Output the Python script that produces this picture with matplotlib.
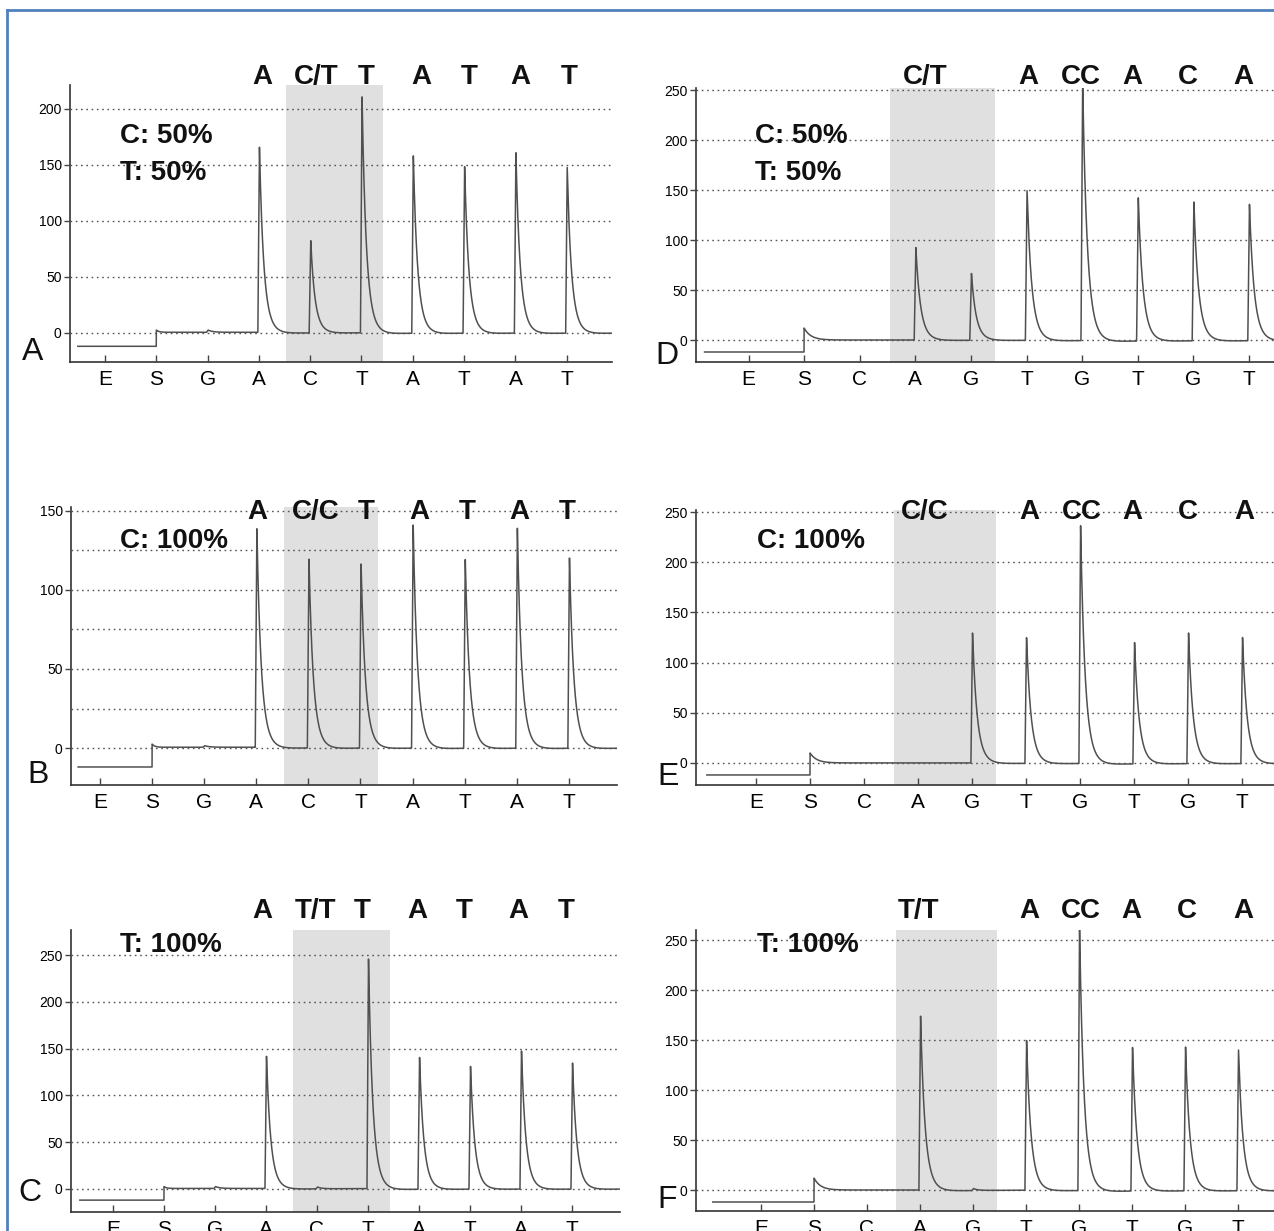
import numpy as np
import matplotlib
matplotlib.use("Agg")
import matplotlib.pyplot as plt
from matplotlib import transforms
from matplotlib.lines import Line2D
from matplotlib.ticker import FixedLocator

plt.rcParams['font.family'] = ['Liberation Sans', 'DejaVu Sans']

W, H = 1274, 1231

# Dispensation order of each assay
disp_left = ["E", "S", "G", "A", "C", "T", "A", "T", "A", "T"]
disp_right = ["E", "S", "C", "A", "G", "T", "G", "T", "G", "T"]

# Light units recorded at each dispensation
heights_A = [0, 0, 2, 167, 83, 212, 159, 149, 161, 148]
heights_B = [0, 0, 1, 140, 121, 118, 143, 121, 141, 122]
heights_C = [0, 0, 2, 142, 2, 246, 143, 132, 149, 136]
heights_D = [0, 0, 0, 93, 67, 150, 258, 145, 140, 137]
heights_E = [0, 0, 0, 0, 130, 127, 240, 122, 131, 126]
heights_F = [0, 0, 0, 176, 2, 152, 265, 145, 145, 141]

# Signal before substrate addition and the substrate bump at "S"
pre_levels = {"A": -12, "B": -12, "C": -12, "D": -12, "E": -12, "F": -12}
s_bumps = {"A": 2, "B": 2, "C": 2, "D": 12, "E": 10, "F": 12}

# Sequence read above each pyrogram
seq_A = ["A", "C/T", "T", "A", "T", "A", "T"]
seq_B = ["A", "C/C", "T", "A", "T", "A", "T"]
seq_C = ["A", "T/T", "T", "A", "T", "A", "T"]
seq_D = ["C/T", "A", "CC", "A", "C", "A"]
seq_E = ["C/C", "A", "CC", "A", "C", "A"]
seq_F = ["T/T", "A", "CC", "A", "C", "A"]

# Allele frequencies
alleles_A = ["C: 50%", "T: 50%"]
alleles_B = ["C: 100%"]
alleles_C = ["T: 100%"]
alleles_D = ["C: 50%", "T: 50%"]
alleles_E = ["C: 100%"]
alleles_F = ["T: 100%"]

panels = [
    dict(name="A", disp=disp_left, h=heights_A, seq=seq_A, al=alleles_A,
         box=(70, 85, 612, 362), e_px=105, step=51.3, ylim=(-26, 221),
         yt=[0, 50, 100, 150, 200], minor=[], span=(4.53, 6.42),
         seq_x=[4.06, 5.11, 6.1, 7.16, 8.1, 9.1, 10.05], seq_y=77,
         x0=0.47, al_xy=(120, 136), let_xy=(22, 352)),
    dict(name="B", disp=disp_left, h=heights_B, seq=seq_B, al=alleles_B,
         box=(71, 507, 617, 785), e_px=100, step=52.1, ylim=(-23.4, 152.5),
         yt=[0, 50, 100, 150], minor=[25, 75, 125], span=(4.53, 6.34),
         seq_x=[4.01, 5.15, 6.1, 7.12, 8.04, 9.04, 9.96], seq_y=512,
         x0=0.58, al_xy=(120, 541), let_xy=(27, 775)),
    dict(name="C", disp=disp_left, h=heights_C, seq=seq_C, al=alleles_C,
         box=(71, 930, 620, 1212), e_px=113, step=51.0, ylim=(-24.7, 277),
         yt=[0, 50, 100, 150, 200, 250], minor=[], span=(4.53, 6.43),
         seq_x=[3.92, 4.98, 5.88, 6.96, 7.88, 8.94, 9.88], seq_y=911,
         x0=0.35, al_xy=(120, 945), let_xy=(18, 1193)),
    dict(name="D", disp=disp_right, h=heights_D, seq=seq_D, al=alleles_D,
         box=(696, 88, 1300, 362), e_px=748.5, step=55.6, ylim=(-22, 252),
         yt=[0, 50, 100, 150, 200, 250], minor=[], span=(3.54, 5.43),
         seq_x=[4.17, 6.04, 6.98, 7.9, 8.9, 9.9], seq_y=77,
         x0=0.21, al_xy=(755, 136), let_xy=(655, 356)),
    dict(name="E", disp=disp_right, h=heights_E, seq=seq_E, al=alleles_E,
         box=(696, 510, 1300, 785), e_px=756, step=54.0, ylim=(-22, 252),
         yt=[0, 50, 100, 150, 200, 250], minor=[], span=(3.55, 5.44),
         seq_x=[4.13, 6.06, 7.04, 7.96, 9.0, 10.04], seq_y=512,
         x0=0.09, al_xy=(757, 541), let_xy=(657, 777)),
    dict(name="F", disp=disp_right, h=heights_F, seq=seq_F, al=alleles_F,
         box=(696, 930, 1300, 1211), e_px=761, step=53.0, ylim=(-21, 260),
         yt=[0, 50, 100, 150, 200, 250], minor=[], span=(3.55, 5.45),
         seq_x=[3.98, 6.06, 7.04, 7.98, 9.04, 10.1], seq_y=911,
         x0=0.09, al_xy=(757, 945), let_xy=(657, 1200)),
]


def peak(x, pos, h):
    """Pyrogram peak: near-vertical rise, two-rate exponential decay,
    followed by a slight undershoot of the baseline."""
    t = x - (pos - 0.02)
    r = 0.03
    y = np.zeros_like(x)
    rising = (t >= 0) & (t < r)
    y[rising] = h * t[rising] / r
    dec = t >= r
    td = t[dec] - r
    y[dec] = h * (0.6 * np.exp(-td / 0.07) + 0.4 * np.exp(-td / 0.12)
                  - 0.012 * (1 - np.exp(-td / 0.25)) * np.exp(-td / 0.8))
    return y


def trace(x, heights, pre, bump):
    s_pos = 2
    y = np.where(x < s_pos, float(pre), 0.0)
    after = x >= s_pos
    ts = x[after] - s_pos
    if bump > 3:
        y[after] += bump * np.exp(-ts / 0.12)
    else:
        y[after] += bump * np.exp(-ts / 0.05) + 0.5
    for i, h in enumerate(heights):
        if i >= 2 and h > 0:
            y += peak(x, i + 1, h)
    return y


fig = plt.figure(figsize=(W / 100, H / 100), dpi=100)
fig.patch.set_facecolor("white")

for p in panels:
    x0p, y0p, x1p, y1p = p["box"]
    ax = fig.add_axes([x0p / W, 1 - y1p / H, (x1p - x0p) / W, (y1p - y0p) / H])
    xl = ((x0p - p["e_px"]) / p["step"] + 1, (x1p - p["e_px"]) / p["step"] + 1)
    ax.set_xlim(*xl)
    ax.set_ylim(*p["ylim"])

    ax.axvspan(p["span"][0], p["span"][1], color="#e0e0e0", lw=0, zorder=0)

    x = np.linspace(p["x0"], xl[1], 6000)
    y = trace(x, p["h"], pre_levels[p["name"]], s_bumps[p["name"]])
    ax.plot(x, y, color="#505050", lw=1.1, zorder=3)

    pos = np.arange(1, len(p["disp"]) + 1)
    ax.set_xticks(pos)
    ax.set_xticklabels(p["disp"], fontsize=15)
    ax.set_yticks(p["yt"])
    ax.set_yticklabels([str(v) for v in p["yt"]], fontsize=10)
    ax.tick_params(axis="x", direction="in", length=5, width=1, pad=6,
                   color="#444")
    ax.tick_params(axis="y", direction="out", length=4, width=1, pad=2,
                   color="#444")
    ax.grid(axis="y", which="major", linestyle=(0, (1.2, 2.6)),
            color="#555555", lw=1.0, zorder=1)
    if p["minor"]:
        ax.yaxis.set_minor_locator(FixedLocator(p["minor"]))
        ax.tick_params(axis="y", which="minor", length=0)
        ax.grid(axis="y", which="minor", linestyle=(0, (1.2, 2.6)),
                color="#555555", lw=1.0, zorder=1)
    ax.set_axisbelow(False)
    for side in ("top", "right"):
        ax.spines[side].set_visible(False)
    for side in ("left", "bottom"):
        ax.spines[side].set_color("#333333")
        ax.spines[side].set_linewidth(1.2)
    ax.patch.set_alpha(0)

    # sequence letters above the pyrogram
    tr = transforms.blended_transform_factory(ax.transData, fig.transFigure)
    for lab, sx in zip(p["seq"], p["seq_x"]):
        ax.text(sx, 1 - p["seq_y"] / H, lab, transform=tr, ha="center",
                va="center", fontsize=20, fontweight="bold", color="#111",
                clip_on=False, zorder=5)

    # allele frequencies
    ax_x, ax_y = p["al_xy"]
    for k, line in enumerate(p["al"]):
        fig.text(ax_x / W, 1 - (ax_y + 37 * k) / H, line, ha="left",
                 va="center", fontsize=20, fontweight="bold", color="#111")

    # panel letter
    lx, ly = p["let_xy"]
    fig.text(lx / W, 1 - ly / H, p["name"], ha="left", va="center",
             fontsize=23, color="#111")

# frame around the figure
border = "#4f81bd"
fig.add_artist(Line2D([7 / W, 7 / W], [1 - 10 / H, 0], transform=fig.transFigure,
                      color=border, lw=2))
fig.add_artist(Line2D([7 / W, 1], [1 - 10 / H, 1 - 10 / H],
                      transform=fig.transFigure, color=border, lw=2))

fig.savefig("out.png", dpi=100)
